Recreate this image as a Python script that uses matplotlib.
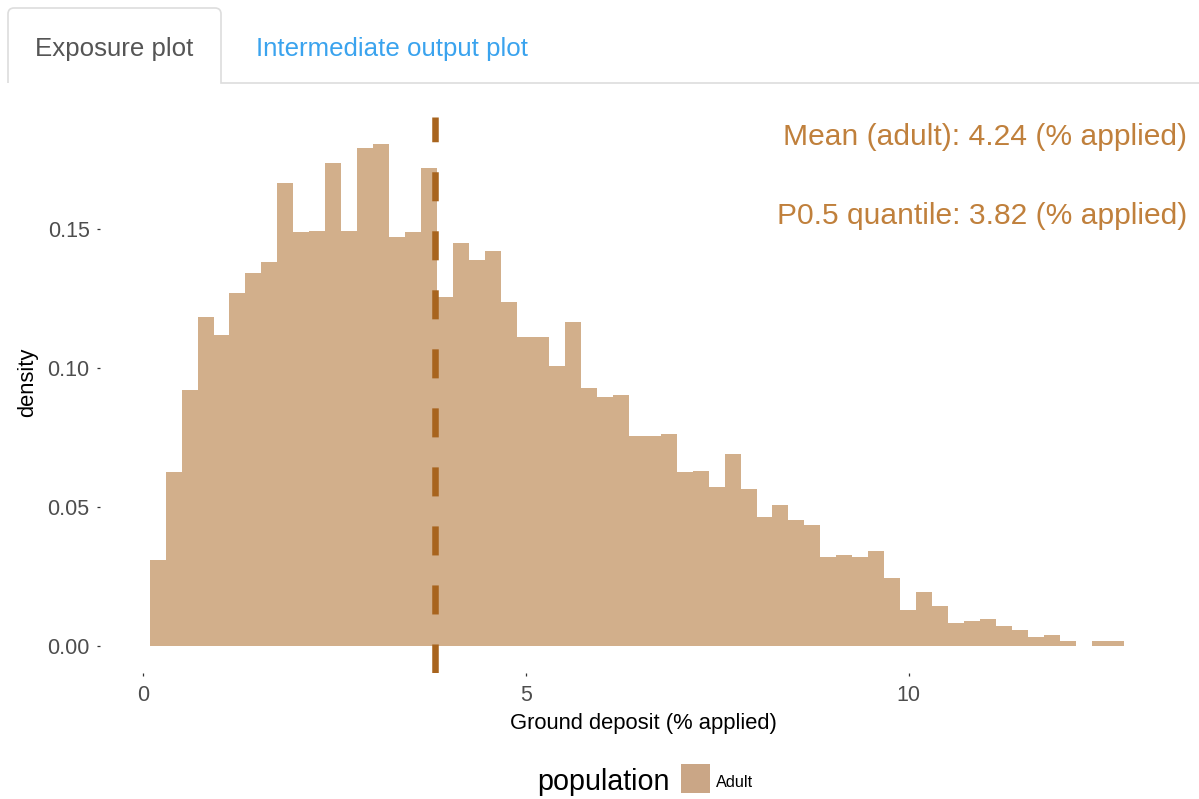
import matplotlib
matplotlib.use("Agg")
import matplotlib.pyplot as plt
from matplotlib.path import Path
from matplotlib.patches import PathPatch, Rectangle
from matplotlib.lines import Line2D
import numpy as np

plt.rcParams['font.family'] = ['Liberation Sans', 'DejaVu Sans']
plt.rcParams['lines.scale_dashes'] = False

# histogram of ground deposit (density per bin)
bin_start = 0.089
bin_width = 0.2085
density = [0.0309, 0.0625, 0.0922, 0.1185, 0.1120, 0.1271, 0.1343, 0.1383, 0.1668, 0.1489,
           0.1495, 0.1740, 0.1495, 0.1794, 0.1806, 0.1472, 0.1489, 0.1722, 0.1258, 0.1450,
           0.1391, 0.1423, 0.1239, 0.1114, 0.1114, 0.1008, 0.1165, 0.0930, 0.0896, 0.0903,
           0.0757, 0.0757, 0.0764, 0.0625, 0.0631, 0.0573, 0.0690, 0.0565, 0.0466, 0.0506,
           0.0453, 0.0434, 0.0322, 0.0328, 0.0322, 0.0341, 0.0243, 0.0131, 0.0196, 0.0143,
           0.0084, 0.0091, 0.0097, 0.0071, 0.0059, 0.0031, 0.0038, 0.0018, 0.0, 0.0018,
           0.0018]
mean_adult = 4.24
p50 = 3.82
y_ticks = [0.00, 0.05, 0.10, 0.15]
x_ticks = [0, 5, 10]
tab_labels = ["Exposure plot", "Intermediate output plot"]
legend_title = "population"
legend_label = "Adult"

W, H = 1199, 799
fig = plt.figure(figsize=(W / 100, H / 100), dpi=100)

def fx(px):
    return px / W

def fy(py):
    return 1 - py / H

# --- tabs at the top ---
r = 6
tab = Path([(fx(8), fy(83)), (fx(8), fy(8 + r)), (fx(8), fy(8)), (fx(8 + r), fy(8)),
            (fx(221 - r), fy(8)), (fx(221), fy(8)), (fx(221), fy(8 + r)), (fx(221), fy(83)),
            (fx(W), fy(83))],
           [Path.MOVETO, Path.LINETO, Path.CURVE3, Path.CURVE3, Path.LINETO,
            Path.CURVE3, Path.CURVE3, Path.LINETO, Path.LINETO])
fig.add_artist(PathPatch(tab, transform=fig.transFigure, facecolor='none',
                         edgecolor='#dddddd', lw=1.2))
fig.text(fx(35), fy(56), tab_labels[0], fontsize=18.6, color='#555555', va='baseline')
fig.text(fx(256), fy(56), tab_labels[1], fontsize=18.6, color='#3aa3ee', va='baseline')

# --- plot panel ---
L, R, T, B = 100, 1190, 117, 673
x0_px, x_unit = 142.8, 76.6
y0_px, y_unit = 646, 2778
ax = fig.add_axes([fx(L), fy(B), fx(R) - fx(L), fy(T) - fy(B)])
edges = bin_start + bin_width * np.arange(len(density) + 1)
ax.stairs(density, edges, fill=True, color='#d2af8b', lw=0)
ax.axvline(p50, color='#a8641e', lw=4.7, linestyle=(0, (20.9, 21.6)))

ax.set_xlim((L - x0_px) / x_unit, (R - x0_px) / x_unit)
ax.set_ylim((y0_px - B) / y_unit, (y0_px - T) / y_unit)
ax.set_xticks(x_ticks)
ax.set_xticklabels([str(t) for t in x_ticks])
ax.set_yticks(y_ticks)
ax.set_yticklabels([f"{t:.2f}" for t in y_ticks])
ax.tick_params(length=2.5, width=0.9, color='#333333', labelsize=15.5,
               labelcolor='#4d4d4d')
ax.tick_params(axis='y', pad=5)
ax.tick_params(axis='x', pad=6)
for s in ax.spines.values():
    s.set_visible(False)
ax.set_facecolor('white')

fig.text(fx(643), fy(724), "Ground deposit (% applied)", fontsize=15.8,
         ha='center', va='center')
fig.text(fx(28), fy(382), "density", fontsize=15.8, rotation=90,
         ha='center', va='center')

# --- annotations ---
note_col = '#c0803c'
fig.text(fx(1187), fy(145), f"Mean (adult): {mean_adult:.2f} (% applied)",
         fontsize=21.6, color=note_col, ha='right', va='baseline')
fig.text(fx(1187), fy(224), f"P0.5 quantile: {p50:.2f} (% applied)",
         fontsize=21.6, color=note_col, ha='right', va='baseline')

# --- legend ---
fig.text(fx(537), fy(790), legend_title, fontsize=20.7, va='baseline')
fig.add_artist(Rectangle((fx(681), fy(793)), fx(29), 29 / H,
                         transform=fig.transFigure, facecolor='#caa686', edgecolor='none'))
fig.text(fx(716), fy(787), legend_label, fontsize=11.7, va='baseline')

fig.savefig("out.png", dpi=100, facecolor='white')
